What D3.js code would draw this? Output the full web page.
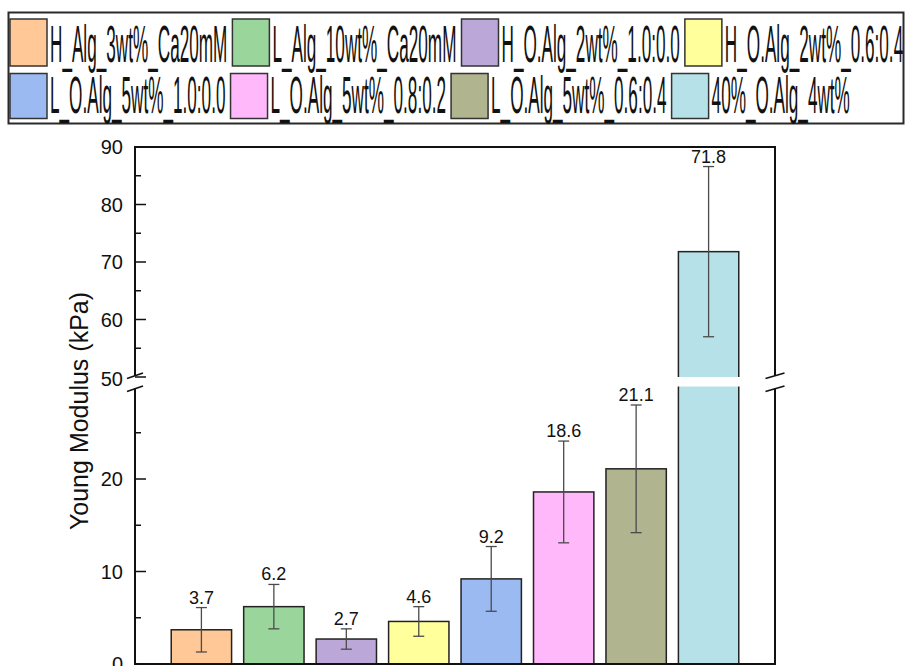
<!DOCTYPE html>
<html>
<head>
<meta charset="utf-8">
<script src="https://cdn.jsdelivr.net/npm/d3@7/dist/d3.min.js"></script>
<style>
  html, body { margin: 0; padding: 0; background: #fff; }
  svg { display: block; font-family: "Liberation Sans", Arial, sans-serif; }
</style>
</head>
<body>
<div id="chart"></div>
<script>
  // data
  var categories = [
    'H_Alg_3wt%_Ca20mM', 'L_Alg_10wt%_Ca20mM', 'H_O.Alg_2wt%_1.0:0.0', 'H_O.Alg_2wt%_0.6:0.4',
    'L_O.Alg_5wt%_1.0:0.0', 'L_O.Alg_5wt%_0.8:0.2', 'L_O.Alg_5wt%_0.6:0.4', '40%_O.Alg_4wt%'
  ]
  var values = [3.7, 6.2, 2.7, 4.6, 9.2, 18.6, 21.1, 71.8]
  var errors = [2.4, 2.4, 1.1, 1.6, 3.5, 5.5, 6.9, 14.8]
  var lowTicks = [0, 10, 20]
  var lowMinor = [5, 15, 25]
  var highTicks = [50, 60, 70, 80, 90]
  var highMinor = [55, 65, 75, 85]

  var colors = ['#ffc896', '#9ad69c', '#bba8d8', '#ffff9c', '#9cbaf2', '#ffb8fa', '#b0b48f', '#b7e1e8']

  var config = {
    width: 908,
    height: 666,
    left: 135,
    right: 775,
    top: 147,
    bottom: 664,
    lowTop: 386.5,   // y of 30 (top of lower segment)
    highBottom: 377, // y of 50 (bottom of upper segment)
    lowMax: 30,
    highMin: 50,
    highMax: 90
  }

  var svg = d3.select('#chart').append('svg')
    .attr('width', config.width)
    .attr('height', config.height)

  /**
   *  scales
   */
  var x = d3.scaleBand()
    .domain(categories)
    .range([config.left, config.right])
    .paddingInner(0.167)
    .paddingOuter(0.5)

  var yLow = d3.scaleLinear().domain([0, config.lowMax]).range([config.bottom, config.lowTop])
  var yHigh = d3.scaleLinear().domain([config.highMin, config.highMax]).range([config.highBottom, config.top])

  function y(v) {
    return v <= config.lowMax ? yLow(v) : yHigh(Math.max(v, config.highMin))
  }

  /**
   *  legend
   */
  var legend = svg.append('g').attr('class', 'legend')
  legend.append('rect')
    .attr('x', 8.5).attr('y', 12.5)
    .attr('width', 895).attr('height', 111)
    .attr('fill', '#fff')
    .attr('stroke', '#2a2a2a')
    .attr('stroke-width', 2)

  var rows = [
    { top: 19, h: 47, base: 61.5 },
    { top: 73.5, h: 45, base: 113 }
  ]
  var squeeze = 0.33
  categories.forEach(function(name, i) {
    var row = rows[Math.floor(i / 4)]
    var g = legend.append('g').attr('class', 'item item' + i)
    g.append('rect')
      .attr('y', row.top).attr('width', 37).attr('height', row.h)
      .attr('fill', colors[i])
      .attr('stroke', '#333').attr('stroke-width', 1.5)
    g.append('text')
      .attr('font-size', 52)
      .attr('fill', '#111')
      .text(name)
  })
  // flow layout per row, text squeezed horizontally like a narrow face
  for (var r = 0; r < 2; r++) {
    var cx = 10
    var base = rows[r].base
    for (var j = 0; j < 4; j++) {
      var k = r * 4 + j
      var item = legend.select('.item' + k)
      var t = item.select('text')
      var w = t.node().getComputedTextLength() * squeeze
      item.select('rect').attr('x', cx)
      t.attr('transform', 'translate(' + (cx + 40) + ',' + base + ') scale(' + squeeze + ',1)')
      cx = cx + 40 + w + 5
    }
  }

  /**
   *  bars
   */
  var bars = svg.append('g').attr('class', 'bars')
  bars.selectAll('rect')
    .data(values)
    .enter()
    .append('rect')
    .attr('x', function(d, i) { return x(categories[i]) })
    .attr('y', function(d) { return y(d) })
    .attr('width', x.bandwidth())
    .attr('height', function(d) { return y(0) - y(d) })
    .attr('fill', function(d, i) { return colors[i] })
    .attr('stroke', '#222')
    .attr('stroke-width', 1.5)

  // white gap through bars that cross the break
  bars.selectAll('.gap')
    .data(values.filter(function(d) { return d > config.lowMax }))
    .enter()
    .append('rect')
    .attr('class', 'gap')
    .attr('x', function(d) { return x(categories[values.indexOf(d)]) - 2 })
    .attr('width', x.bandwidth() + 4)
    .attr('y', config.highBottom)
    .attr('height', config.lowTop - config.highBottom)
    .attr('fill', '#fff')

  /**
   *  error bars and value labels
   */
  var errs = svg.append('g').attr('class', 'errs')
    .attr('stroke', '#4a4a4a')
    .attr('stroke-width', 1.3)
  values.forEach(function(d, i) {
    var cx = x(categories[i]) + x.bandwidth() / 2
    var yt = y(d + errors[i])
    var yb = y(d - errors[i])
    errs.append('line').attr('x1', cx).attr('x2', cx).attr('y1', yt).attr('y2', yb)
    errs.append('line').attr('x1', cx - 5.5).attr('x2', cx + 5.5).attr('y1', yt).attr('y2', yt)
    errs.append('line').attr('x1', cx - 5.5).attr('x2', cx + 5.5).attr('y1', yb).attr('y2', yb)
    svg.append('text')
      .attr('x', cx)
      .attr('y', yt - 4)
      .attr('text-anchor', 'middle')
      .attr('font-size', 18)
      .attr('fill', '#111')
      .text(d.toFixed(1))
  })

  /**
   *  axes frame with break
   */
  var frame = svg.append('g').attr('class', 'frame')
    .attr('stroke', '#111')
    .attr('stroke-width', 2)
    .attr('fill', 'none')
  ;[config.left, config.right].forEach(function(ax) {
    frame.append('line').attr('x1', ax).attr('x2', ax).attr('y1', config.top - 1).attr('y2', config.highBottom - 1)
    frame.append('line').attr('x1', ax).attr('x2', ax).attr('y1', config.lowTop + 2).attr('y2', config.bottom + 1)
    var hw = ax === config.left ? 8 : 9.5
    frame.append('line').attr('stroke-width', 1.6)
      .attr('x1', ax - hw).attr('y1', config.highBottom + 1.5)
      .attr('x2', ax + hw).attr('y2', config.highBottom - 4)
    frame.append('line').attr('stroke-width', 1.6)
      .attr('x1', ax - hw).attr('y1', config.lowTop + 5)
      .attr('x2', ax + hw).attr('y2', config.lowTop - 0.5)
  })
  frame.append('line').attr('x1', config.left).attr('x2', config.right).attr('y1', config.top).attr('y2', config.top)
  frame.append('line').attr('x1', config.left - 1).attr('x2', config.right + 1).attr('y1', config.bottom).attr('y2', config.bottom)

  // inward ticks on the left axis
  function addTicks(scale, major, minor) {
    var g = svg.append('g').attr('stroke', '#111').attr('stroke-width', 1.5)
    g.selectAll('.major').data(major).enter().append('line')
      .attr('x1', config.left).attr('x2', config.left + 11)
      .attr('y1', function(d) { return scale(d) }).attr('y2', function(d) { return scale(d) })
    g.selectAll('.minor').data(minor).enter().append('line')
      .attr('x1', config.left).attr('x2', config.left + 6)
      .attr('y1', function(d) { return scale(d) }).attr('y2', function(d) { return scale(d) })
    svg.append('g').selectAll('text').data(major).enter().append('text')
      .attr('x', config.left - 12)
      .attr('y', function(d) { return scale(d) + (d === config.highMin ? 2 : 0) })
      .attr('dy', '0.36em')
      .attr('text-anchor', 'end')
      .attr('font-size', 20)
      .attr('fill', '#111')
      .text(function(d) { return d })
  }
  addTicks(yLow, lowTicks, lowMinor)
  addTicks(yHigh, highTicks, highMinor)

  // y title
  svg.append('text')
    .attr('transform', 'translate(88,411) rotate(-90)')
    .attr('text-anchor', 'middle')
    .attr('font-size', 25)
    .attr('fill', '#111')
    .text('Young Modulus (kPa)')
</script>
</body>
</html>
